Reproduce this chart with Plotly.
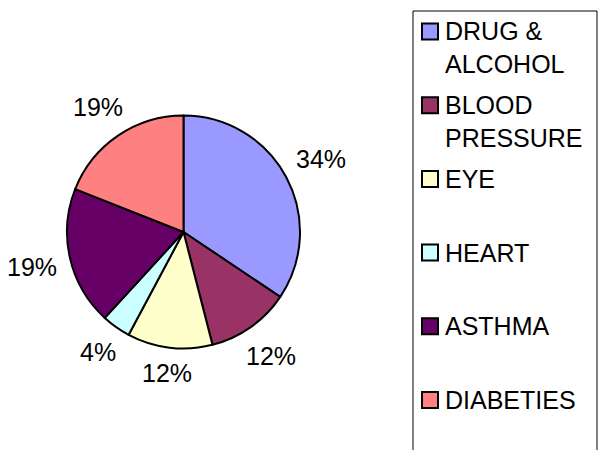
import math
import plotly.graph_objects as go

categories = ["DRUG & ALCOHOL", "BLOOD PRESSURE", "EYE", "HEART", "ASTHMA", "DIABETIES"]
legend_text = ["DRUG &<br>ALCOHOL", "BLOOD<br>PRESSURE", "EYE", "HEART", "ASTHMA", "DIABETIES"]
values = [34.4, 11.6, 11.8, 4.0, 19.2, 19.0]
colors = ["#9999FF", "#993366", "#FFFFCC", "#CCFFFF", "#660066", "#FF8080"]

W, H = 605, 450
FONT = "Liberation Sans, Arial, sans-serif"
FS = 25


def px(x):
    return x / W


def py(y):
    return 1 - y / H


# pie geometry (pixels)
CX, CY, R = 183.5, 232, 116.5

fig = go.Figure(go.Pie(
    labels=categories,
    values=values,
    sort=False,
    direction="clockwise",
    rotation=0,
    marker=dict(colors=colors, line=dict(color="black", width=2)),
    textinfo="none",
    domain=dict(x=[px(CX - R), px(CX + R)], y=[py(CY + R), py(CY - R)]),
    hoverinfo="label+percent",
    showlegend=False,
))

annotations = []
# percentage labels placed outside each slice along its mid-angle
total = sum(values)
cum = 0.0
for v in values:
    frac = v / total
    mid = (cum + frac / 2) * 2 * math.pi
    cum += frac
    txt = f"{round(frac * 100)}%"
    ux, uy = math.sin(mid), -math.cos(mid)
    w = FS * (0.556 * (len(txt) - 1) + 0.889)
    h = 20
    d = 129 + abs(ux) * w / 2 + abs(uy) * h / 2
    annotations.append(dict(xref="paper", yref="paper",
                            x=px(CX + d * ux), y=py(CY + d * uy),
                            xanchor="center", yanchor="middle",
                            text=txt, showarrow=False,
                            font=dict(size=FS, color="black", family=FONT)))

# legend drawn as a bordered box with coloured squares
shapes = [dict(type="rect", xref="paper", yref="paper",
               x0=px(413), x1=px(597), y0=py(11), y1=py(460),
               line=dict(color="black", width=1), fillcolor="rgba(0,0,0,0)", layer="below")]
top0, step = 23.5, 73.7
for i, (lab, col) in enumerate(zip(legend_text, colors)):
    t = top0 + i * step
    shapes.append(dict(type="rect", xref="paper", yref="paper",
                       x0=px(422), x1=px(438), y0=py(t + 16), y1=py(t),
                       line=dict(color="black", width=2), fillcolor=col))
    nlines = lab.count("<br>") + 1
    cy = t + 8 + (nlines - 1) * FS * 1.3 / 2
    annotations.append(dict(xref="paper", yref="paper", x=px(443), y=py(cy),
                            xanchor="left", yanchor="middle", align="left",
                            text=lab, showarrow=False,
                            font=dict(size=FS, color="black", family=FONT)))

fig.update_layout(
    width=W, height=H,
    margin=dict(l=0, r=0, t=0, b=0),
    paper_bgcolor="white",
    font=dict(family=FONT, color="black"),
    shapes=shapes,
    annotations=annotations,
)

fig.write_html("out.html", config={"displayModeBar": False},
               post_script="document.body.style.margin='0';")
